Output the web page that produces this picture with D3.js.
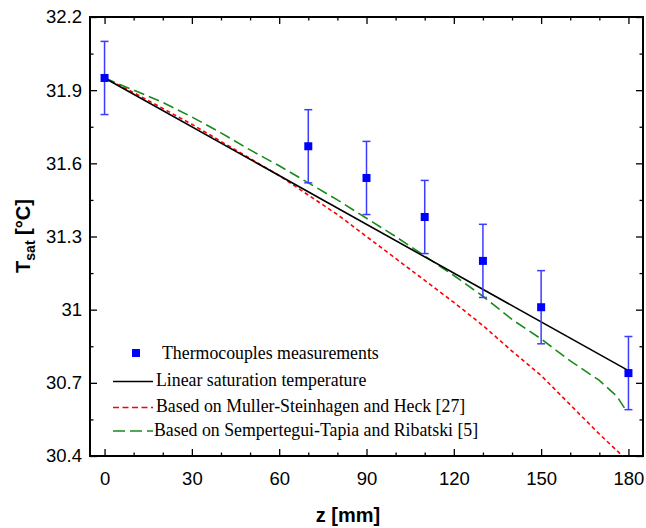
<!DOCTYPE html>
<html>
<head>
<meta charset="utf-8">
<script src="https://cdn.jsdelivr.net/npm/d3@7"></script>
<style>
  html, body { margin: 0; padding: 0; background: #fff; }
  svg { display: block; }
</style>
</head>
<body>
<svg id="chart" width="646" height="528"></svg>
<script>
// ---------- data ----------
const zMeas = [0, 70, 90, 110, 130, 150, 180];
const tMeas = [31.95, 31.67, 31.54, 31.38, 31.20, 31.01, 30.74];
const errMeas = [0.15, 0.15, 0.15, 0.15, 0.15, 0.15, 0.15];

const zLinear = [0, 180];
const tLinear = [31.95, 30.75];

const zMuller = [0, 10, 20, 30, 40, 50, 60, 70, 80, 90, 100, 110, 120, 130, 140, 150, 160, 170, 178];
const tMuller = [31.95, 31.89, 31.825, 31.76, 31.69, 31.62, 31.55, 31.47, 31.39, 31.30, 31.21, 31.12, 31.03, 30.935, 30.83, 30.73, 30.61, 30.49, 30.40];

const zSemper = [0, 10, 20, 30, 40, 50, 60, 70, 80, 90, 100, 110, 120, 130, 140, 150, 160, 170, 176, 179];
const tSemper = [31.95, 31.90, 31.85, 31.79, 31.725, 31.655, 31.59, 31.52, 31.45, 31.375, 31.30, 31.22, 31.14, 31.055, 30.96, 30.88, 30.79, 30.71, 30.645, 30.59];

const xMajorTicks = [0, 30, 60, 90, 120, 150, 180];
const xMinorTicks = [10, 20, 40, 50, 70, 80, 100, 110, 130, 140, 160, 170];
const yMajorTicks = [30.4, 30.7, 31.0, 31.3, 31.6, 31.9, 32.2];
const yMinorTicks = [30.55, 30.85, 31.15, 31.45, 31.75, 32.05];

const legendLabels = [
  "Thermocouples measurements",
  "Linear saturation temperature",
  "Based on Muller-Steinhagen and Heck [27]",
  "Based on Sempertegui-Tapia and Ribatski [5]"
];

// ---------- layout ----------
const svg = d3.select("#chart");
const L = 90, R = 643, T = 17, B = 456;
const x = d3.scaleLinear().domain([-5, 185]).range([L, R]);
const y = d3.scaleLinear().domain([30.4, 32.2]).range([B, T]);

const fmt = d => String(+d.toFixed(1));
const tickFont = "Liberation Sans, Arial, sans-serif";
const serif = "Liberation Serif, 'Times New Roman', serif";

function styleAxis(g, showLabels) {
  g.select(".domain").remove();
  g.selectAll(".tick line").attr("stroke", "#000").attr("stroke-width", 1.3);
  g.selectAll(".tick text").attr("font-family", tickFont).attr("font-size", 18.5).attr("fill", "#000");
  if (!showLabels) g.selectAll(".tick text").remove();
}

// bottom axis
svg.append("g").attr("transform", `translate(0,${B})`)
  .call(d3.axisBottom(x).tickValues(xMajorTicks).tickFormat(fmt).tickSize(-7).tickPadding(16))
  .call(g => styleAxis(g, true));
svg.append("g").attr("transform", `translate(0,${B})`)
  .call(d3.axisBottom(x).tickValues(xMinorTicks).tickSize(-3.5))
  .call(g => styleAxis(g, false));
// top axis
svg.append("g").attr("transform", `translate(0,${T})`)
  .call(d3.axisTop(x).tickValues(xMajorTicks).tickSize(-7))
  .call(g => styleAxis(g, false));
svg.append("g").attr("transform", `translate(0,${T})`)
  .call(d3.axisTop(x).tickValues(xMinorTicks).tickSize(-3.5))
  .call(g => styleAxis(g, false));
// left axis
svg.append("g").attr("transform", `translate(${L},0)`)
  .call(d3.axisLeft(y).tickValues(yMajorTicks).tickFormat(fmt).tickSize(-7).tickPadding(8))
  .call(g => styleAxis(g, true));
svg.append("g").attr("transform", `translate(${L},0)`)
  .call(d3.axisLeft(y).tickValues(yMinorTicks).tickSize(-3.5))
  .call(g => styleAxis(g, false));
// right axis
svg.append("g").attr("transform", `translate(${R},0)`)
  .call(d3.axisRight(y).tickValues(yMajorTicks).tickSize(-7))
  .call(g => styleAxis(g, false));
svg.append("g").attr("transform", `translate(${R},0)`)
  .call(d3.axisRight(y).tickValues(yMinorTicks).tickSize(-3.5))
  .call(g => styleAxis(g, false));

// frame
svg.append("rect").attr("x", L).attr("y", T).attr("width", R - L).attr("height", B - T)
  .attr("fill", "none").attr("stroke", "#000").attr("stroke-width", 2);

// clip
svg.append("clipPath").attr("id", "clip").append("rect")
  .attr("x", L).attr("y", T).attr("width", R - L).attr("height", B - T);

const plot = svg.append("g").attr("clip-path", "url(#clip)");
const line = d3.line().x(d => x(d[0])).y(d => y(d[1]));

// curves
plot.append("path").datum(d3.zip(zMuller, tMuller)).attr("d", line)
  .attr("fill", "none").attr("stroke", "#ff0000").attr("stroke-width", 1.6).attr("stroke-dasharray", "4,3");
plot.append("path").datum(d3.zip(zSemper, tSemper)).attr("d", line)
  .attr("fill", "none").attr("stroke", "#1a8a1a").attr("stroke-width", 1.6).attr("stroke-dasharray", "11,5");
plot.append("path").datum(d3.zip(zLinear, tLinear)).attr("d", line)
  .attr("fill", "none").attr("stroke", "#000").attr("stroke-width", 1.6);

// error bars
const meas = d3.zip(zMeas, tMeas, errMeas);
const eb = plot.append("g").attr("stroke", "#3c3cff").attr("stroke-width", 1.5);
eb.selectAll("line.v").data(meas).join("line").attr("class", "v")
  .attr("x1", d => x(d[0])).attr("x2", d => x(d[0]))
  .attr("y1", d => y(d[1] - d[2])).attr("y2", d => y(d[1] + d[2]));
eb.selectAll("line.t").data(meas).join("line").attr("class", "t")
  .attr("x1", d => x(d[0]) - 4).attr("x2", d => x(d[0]) + 4)
  .attr("y1", d => y(d[1] + d[2])).attr("y2", d => y(d[1] + d[2]));
eb.selectAll("line.b").data(meas).join("line").attr("class", "b")
  .attr("x1", d => x(d[0]) - 4).attr("x2", d => x(d[0]) + 4)
  .attr("y1", d => y(d[1] - d[2])).attr("y2", d => y(d[1] - d[2]));
// markers
plot.selectAll("rect.m").data(meas).join("rect").attr("class", "m")
  .attr("x", d => x(d[0]) - 4).attr("y", d => y(d[1]) - 4)
  .attr("width", 8).attr("height", 8).attr("fill", "#0000ff");

// legend
const lg = svg.append("g");
lg.append("rect").attr("x", 132).attr("y", 349).attr("width", 8).attr("height", 8).attr("fill", "#0000ff");
lg.append("text").attr("x", 162).attr("y", 359).text(legendLabels[0]);
lg.append("line").attr("x1", 113).attr("x2", 153).attr("y1", 381.5).attr("y2", 381.5)
  .attr("stroke", "#000").attr("stroke-width", 1.6);
lg.append("text").attr("x", 156).attr("y", 386).text(legendLabels[1]);
lg.append("line").attr("x1", 113).attr("x2", 153).attr("y1", 407.5).attr("y2", 407.5)
  .attr("stroke", "#ff0000").attr("stroke-width", 1.6).attr("stroke-dasharray", "6,3.5");
lg.append("text").attr("x", 156).attr("y", 412).text(legendLabels[2]);
lg.append("line").attr("x1", 113).attr("x2", 153).attr("y1", 431).attr("y2", 431)
  .attr("stroke", "#1a8a1a").attr("stroke-width", 1.6).attr("stroke-dasharray", "12,5");
lg.append("text").attr("x", 154).attr("y", 436).text(legendLabels[3]);
lg.selectAll("text").attr("font-family", serif).attr("font-size", 17.8).attr("fill", "#000");

// axis titles
svg.append("text").attr("x", 348).attr("y", 522).attr("text-anchor", "middle")
  .attr("font-family", tickFont).attr("font-weight", "bold").attr("font-size", 20).text("z [mm]");

const yt = svg.append("text").attr("transform", "translate(30,236) rotate(-90)")
  .attr("text-anchor", "middle").attr("font-family", tickFont).attr("font-weight", "bold").attr("font-size", 20);
yt.append("tspan").text("T");
yt.append("tspan").attr("font-size", 14).attr("dy", 5).text("sat");
yt.append("tspan").attr("dy", -5).text(" [°C]");
</script>
</body>
</html>
